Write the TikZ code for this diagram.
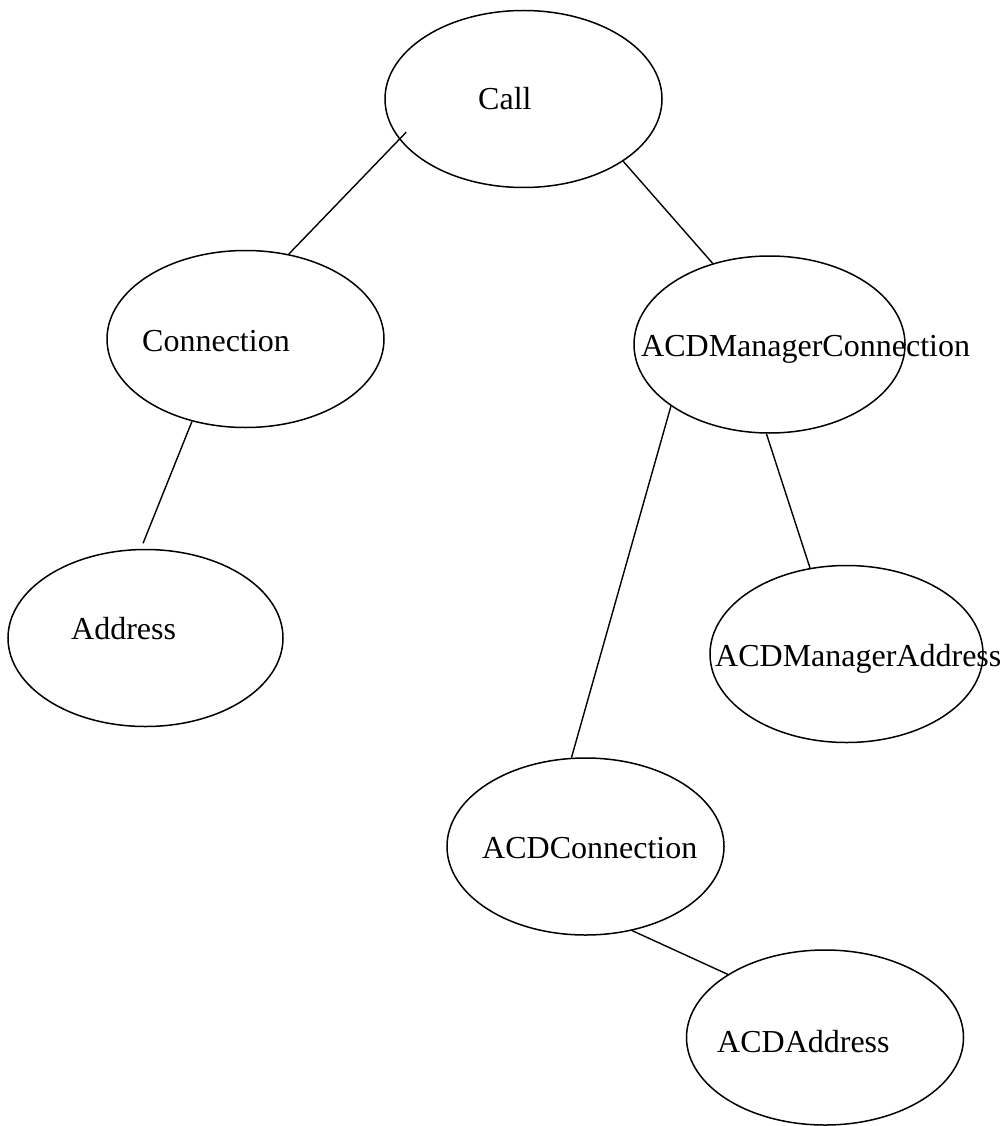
\documentclass[tikz,border=0pt]{standalone}
\usepackage{fontspec}
\setmainfont{Liberation Serif}
\usetikzlibrary{shapes.geometric}
\begin{document}
\begin{tikzpicture}[x=1pt,y=-1pt,
  cls/.style={draw=black, line width=1.5pt, ellipse, inner sep=0pt,
              minimum width=277pt, minimum height=177pt},
  lbl/.style={anchor=base west, inner sep=0pt,
              font=\fontsize{32}{38}\selectfont},
  link/.style={draw=black, line width=1.4pt}]
  \useasboundingbox (0,0) rectangle (1000,1126);

  % class ellipses
  \node[cls] (call)  at (523.5,99)    {};
  \node[cls] (conn)  at (245.5,339)   {};
  \node[cls, minimum width=271pt] (mconn) at (769.5,344.5) {};
  \node[cls, minimum width=275pt] (addr)  at (145.5,638)   {};
  \node[cls, minimum width=273pt] (maddr) at (846.5,654)   {};
  \node[cls] (aconn) at (585.5,846.5) {};
  \node[cls, minimum height=175pt] (aaddr) at (825,1037.5) {};

  % class names
  \node[lbl] (callt)  at (478,110)  {Call};
  \node[lbl] (connt)  at (142,351)  {Connection};
  \node[lbl] (mconnt) at (641,356)  {ACDManagerConnection};
  \node[lbl] (addrt)  at (71,639)   {Address};
  \node[lbl] (maddrt) at (715,666)  {ACDManagerAddress};
  \node[lbl] (aconnt) at (482,858)  {ACDConnection};
  \node[lbl] (aaddrt) at (717,1052) {ACDAddress};

  % tree edges
  \path[link, shorten >=-10pt] (conn.63.7) -- (call.198.5);
  \path[link] (call.328.1) -- (mconn.125.5);
  \path[link, shorten >=6pt] (conn.237.1) -- (addr.93.2);
  \path[link] (mconn.212.7) -- (aconn.99.4);
  \path[link] (mconn.268.4) -- (maddr.113.2);
  \path[link] (aconn.299.7) -- (aaddr.147.9);
\end{tikzpicture}
\end{document}
